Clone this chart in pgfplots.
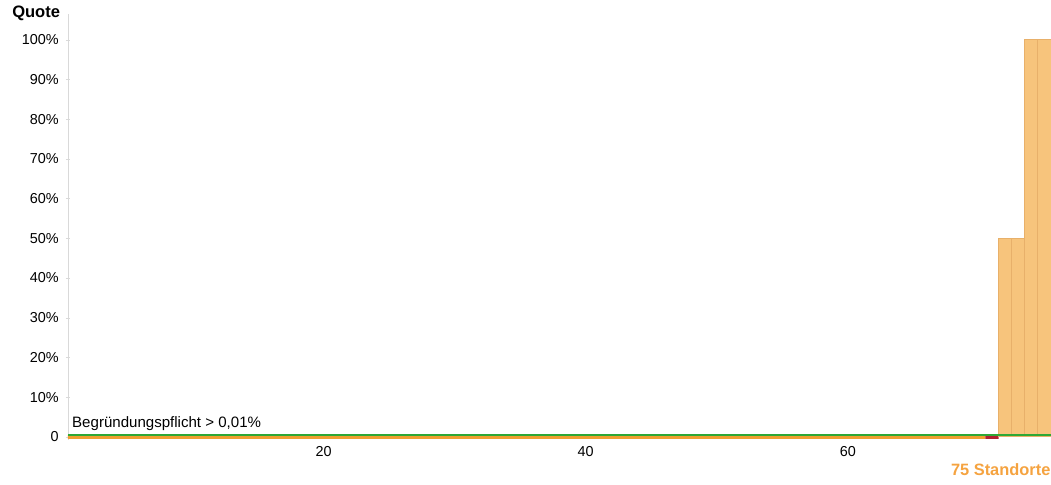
\documentclass[border=0pt]{standalone}
\usepackage{fontspec}
\setmainfont{Liberation Sans}
\usepackage{pgfplots}
\pgfplotsset{compat=1.18}
\definecolor{barlow}{HTML}{F0A030}
\definecolor{barhigh}{HTML}{F7C47C}
\definecolor{baredge}{HTML}{E8B06A}
\definecolor{barred}{HTML}{B02030}
\definecolor{linegreen}{HTML}{2EA836}
\definecolor{labelorange}{HTML}{F5A340}
\begin{document}
\begin{tikzpicture}
\path[use as bounding box] (0,0) rectangle (788.25pt,363.75pt);
\begin{axis}[
  at={(51pt,33.75pt)}, anchor=south west,
  scale only axis, width=737.25pt, height=319.5pt,
  xmin=0.5, xmax=75.5, ymin=-0.8, ymax=106.5,
  axis lines=left,
  x axis line style={draw=none},
  y axis line style={draw=gray!30, -},
  xtick={20,40,60},
  ytick={0,10,20,30,40,50,60,70,80,90,100},
  yticklabels={0,10\%,20\%,30\%,40\%,50\%,60\%,70\%,80\%,90\%,100\%},
  major tick length=3pt,
  tick style={draw=gray!30},
  x tick style={draw=none},
  yticklabel style={xshift=-2pt},
  tick label style={font=\fontsize{10.8}{12}\selectfont, text=black},
  /pgf/number format/assume math mode=true,
  clip=false,
]
% 70 locations at 0
\addplot[ybar, bar shift=0pt, bar width=1, fill=barlow, draw=barlow, line width=3.2pt] coordinates {
(1,0)(2,0)(3,0)(4,0)(5,0)(6,0)(7,0)(8,0)(9,0)(10,0)
(11,0)(12,0)(13,0)(14,0)(15,0)(16,0)(17,0)(18,0)(19,0)(20,0)
(21,0)(22,0)(23,0)(24,0)(25,0)(26,0)(27,0)(28,0)(29,0)(30,0)
(31,0)(32,0)(33,0)(34,0)(35,0)(36,0)(37,0)(38,0)(39,0)(40,0)
(41,0)(42,0)(43,0)(44,0)(45,0)(46,0)(47,0)(48,0)(49,0)(50,0)
(51,0)(52,0)(53,0)(54,0)(55,0)(56,0)(57,0)(58,0)(59,0)(60,0)
(61,0)(62,0)(63,0)(64,0)(65,0)(66,0)(67,0)(68,0)(69,0)(70,0)
};
\addplot[ybar, bar shift=0pt, bar width=1, fill=barred, draw=barred, line width=3.2pt] coordinates {(71,0)};
\addplot[ybar, bar shift=0pt, bar width=1, fill=barhigh, draw=baredge, line width=0.6pt] coordinates {
(72,50)(73,50)(74,100)(75,100)
};
\addplot[linegreen, line width=1.5pt, no marks, yshift=1.2pt] coordinates {(0.5,0.01)(75.5,0.01)};
\node[anchor=south west, inner sep=0pt, font=\fontsize{11.3}{12}\selectfont] at (axis cs:0.8,1.5) {Begründungspflicht > 0,01\%};
\end{axis}
\node[anchor=west, inner sep=0pt, font=\bfseries\fontsize{12.4}{14}\selectfont] at (9pt,354pt) {Quote};
\node[anchor=east, inner sep=0pt, font=\bfseries\fontsize{12.3}{14}\selectfont, text=labelorange] at (788pt,11.5pt) {75 Standorte};
\end{tikzpicture}
\end{document}
